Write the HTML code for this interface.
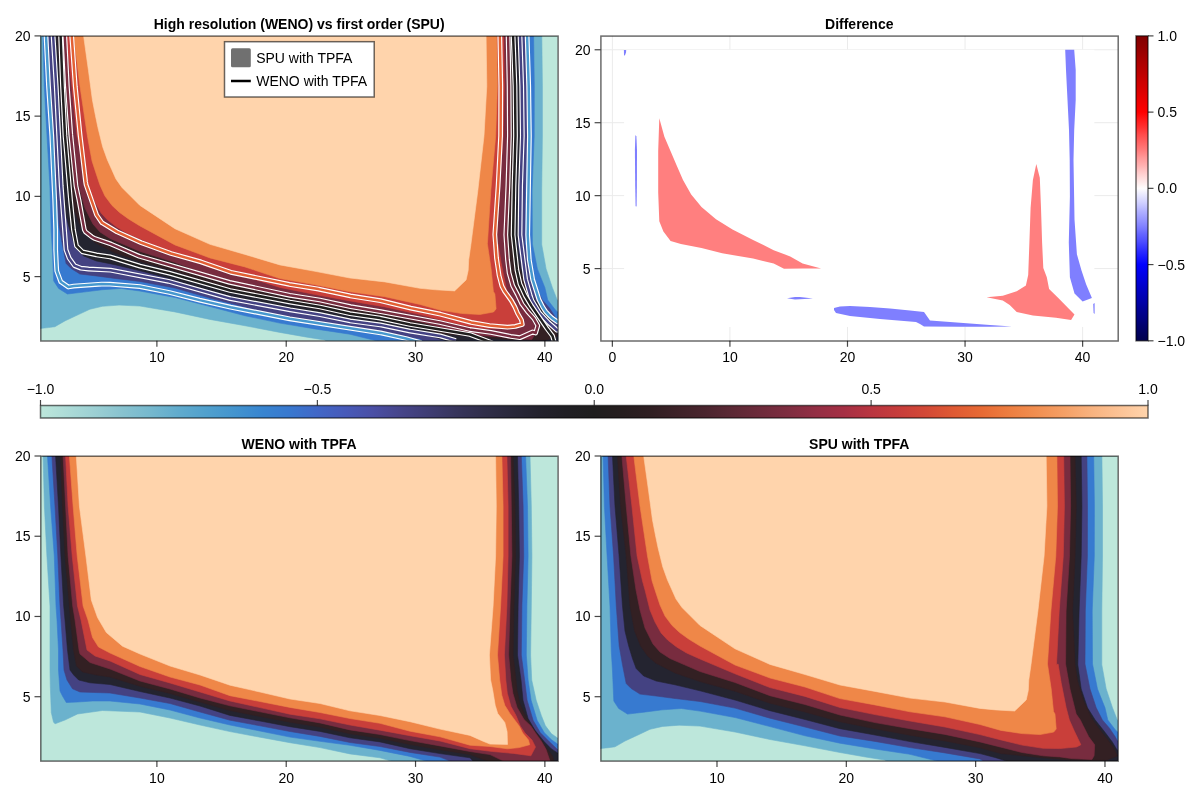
<!DOCTYPE html>
<html><head><meta charset="utf-8"><style>html,body{margin:0;padding:0;background:#fff;width:1200px;height:800px;overflow:hidden}svg{display:block;will-change:transform}</style></head><body>
<svg width="1200" height="800" viewBox="0 0 1200 800" font-family="'Liberation Sans', sans-serif">
<defs>
<clipPath id="cp"><rect x="0" y="0" width="517.3" height="304.9"/></clipPath>
<linearGradient id="gice" x1="0" y1="0" x2="1" y2="0"><stop offset="0.0000" stop-color="#bde7db"/><stop offset="0.0250" stop-color="#acdbd7"/><stop offset="0.0500" stop-color="#9bcfd3"/><stop offset="0.0750" stop-color="#87c2cf"/><stop offset="0.1000" stop-color="#75b8ce"/><stop offset="0.1250" stop-color="#60abcd"/><stop offset="0.1500" stop-color="#50a0cd"/><stop offset="0.1750" stop-color="#4394ce"/><stop offset="0.2000" stop-color="#3885d0"/><stop offset="0.2250" stop-color="#3878cf"/><stop offset="0.2500" stop-color="#4167c7"/><stop offset="0.2750" stop-color="#475ab9"/><stop offset="0.3000" stop-color="#4a4fa5"/><stop offset="0.3250" stop-color="#46458a"/><stop offset="0.3500" stop-color="#3f3d74"/><stop offset="0.3750" stop-color="#37355c"/><stop offset="0.4000" stop-color="#302e4a"/><stop offset="0.4250" stop-color="#29283b"/><stop offset="0.4500" stop-color="#23222d"/><stop offset="0.4750" stop-color="#201f24"/><stop offset="0.5000" stop-color="#1f1e1e"/><stop offset="0.5250" stop-color="#261e1f"/><stop offset="0.5500" stop-color="#2f1f22"/><stop offset="0.5750" stop-color="#3d2228"/><stop offset="0.6000" stop-color="#4a252e"/><stop offset="0.6250" stop-color="#5c2935"/><stop offset="0.6500" stop-color="#6d2b3b"/><stop offset="0.6750" stop-color="#7e2d40"/><stop offset="0.7000" stop-color="#932e44"/><stop offset="0.7250" stop-color="#a52f44"/><stop offset="0.7500" stop-color="#b93540"/><stop offset="0.7750" stop-color="#c73d3b"/><stop offset="0.8000" stop-color="#d34936"/><stop offset="0.8250" stop-color="#df5a33"/><stop offset="0.8500" stop-color="#e76a34"/><stop offset="0.8750" stop-color="#ed7e40"/><stop offset="0.9000" stop-color="#f18f51"/><stop offset="0.9250" stop-color="#f5a066"/><stop offset="0.9500" stop-color="#f8b380"/><stop offset="0.9750" stop-color="#fcc396"/><stop offset="1.0000" stop-color="#ffd4ac"/></linearGradient>
<linearGradient id="gseis" x1="0" y1="0" x2="0" y2="1"><stop offset="0.0000" stop-color="#800000"/><stop offset="0.0250" stop-color="#8c0000"/><stop offset="0.0500" stop-color="#980000"/><stop offset="0.0750" stop-color="#a60000"/><stop offset="0.1000" stop-color="#b20000"/><stop offset="0.1250" stop-color="#be0000"/><stop offset="0.1500" stop-color="#cc0000"/><stop offset="0.1750" stop-color="#d80000"/><stop offset="0.2000" stop-color="#e60000"/><stop offset="0.2250" stop-color="#f20000"/><stop offset="0.2500" stop-color="#fe0000"/><stop offset="0.2750" stop-color="#ff1919"/><stop offset="0.3000" stop-color="#ff3131"/><stop offset="0.3250" stop-color="#ff4d4d"/><stop offset="0.3500" stop-color="#ff6565"/><stop offset="0.3750" stop-color="#ff7d7d"/><stop offset="0.4000" stop-color="#ff9999"/><stop offset="0.4250" stop-color="#ffb1b1"/><stop offset="0.4500" stop-color="#ffcdcd"/><stop offset="0.4750" stop-color="#ffe5e5"/><stop offset="0.5000" stop-color="#fffdfd"/><stop offset="0.5250" stop-color="#e5e5ff"/><stop offset="0.5500" stop-color="#cdcdff"/><stop offset="0.5750" stop-color="#b1b1ff"/><stop offset="0.6000" stop-color="#9999ff"/><stop offset="0.6250" stop-color="#8181ff"/><stop offset="0.6500" stop-color="#6565ff"/><stop offset="0.6750" stop-color="#4d4dff"/><stop offset="0.7000" stop-color="#3131ff"/><stop offset="0.7250" stop-color="#1919ff"/><stop offset="0.7500" stop-color="#0101ff"/><stop offset="0.7750" stop-color="#0000ec"/><stop offset="0.8000" stop-color="#0000db"/><stop offset="0.8250" stop-color="#0000c8"/><stop offset="0.8500" stop-color="#0000b7"/><stop offset="0.8750" stop-color="#0000a6"/><stop offset="0.9000" stop-color="#000092"/><stop offset="0.9250" stop-color="#000082"/><stop offset="0.9500" stop-color="#00006e"/><stop offset="0.9750" stop-color="#00005d"/><stop offset="1.0000" stop-color="#00004c"/></linearGradient>
</defs>
<rect width="1200" height="800" fill="#ffffff"/>
<g transform="translate(40.5,35.9)" clip-path="url(#cp)">
<rect x="0" y="0" width="517.3" height="304.9" fill="#bde7db"/>
<path d="M-3.0,-3.0 L-3.0,292.5 L0.0,292.5 L7.7,291.7 L14.4,290.8 L24.4,285.0 L36.9,279.2 L49.4,273.3 L61.9,270.4 L78.6,269.2 L99.4,270.1 L134.4,276.0 L169.4,283.5 L204.4,289.8 L239.4,296.5 L265.0,301.0 L284.0,304.0 L290.0,307.0 L520.0,307.0 L520.0,264.5 L516.9,264.5 L511.9,251.8 L505.6,233.0 L501.2,208.7 L501.2,155.0 L501.9,100.0 L501.9,50.0 L501.3,0.0 L501.3,-3.0 Z" fill="#6bb2cd" stroke="#6bb2cd" stroke-width="0.6"/>
<path d="M2.5,-3.0 L2.5,0.0 L3.8,50.0 L6.5,100.0 L9.4,150.0 L10.7,195.0 L11.9,215.0 L13.2,245.0 L18.1,252.5 L26.9,258.1 L43.1,256.2 L61.9,253.8 L80.7,252.5 L99.4,255.1 L134.4,261.5 L169.4,270.6 L204.4,279.8 L239.4,287.2 L274.4,293.0 L309.4,298.3 L344.5,307.0 L520.0,307.0 L520.0,276.0 L516.9,276.0 L514.4,273.4 L507.2,264.0 L504.4,251.8 L496.9,233.0 L491.9,208.0 L491.6,155.0 L493.7,100.0 L493.8,50.0 L493.1,0.0 L493.1,-3.0 Z" fill="#377ad0" stroke="#377ad0" stroke-width="0.6"/>
<path d="M7.5,-3.0 L7.5,0.0 L9.4,50.0 L13.0,100.0 L15.7,150.0 L18.6,190.0 L21.9,208.8 L25.6,227.5 L30.6,232.5 L39.4,238.1 L55.6,240.0 L74.4,242.5 L99.4,245.5 L134.4,252.1 L169.4,262.2 L204.4,271.0 L239.4,280.0 L274.4,285.4 L309.4,291.6 L344.4,296.9 L379.4,302.9 L386.0,307.0 L520.0,307.0 L520.0,285.0 L516.9,285.0 L514.4,280.5 L508.9,272.2 L501.8,264.0 L495.6,251.8 L489.4,233.0 L484.4,208.0 L484.7,155.0 L486.8,100.0 L486.9,50.0 L486.3,0.0 L486.3,-3.0 Z" fill="#444282" stroke="#444282" stroke-width="0.6"/>
<path d="M11.9,-3.0 L11.9,0.0 L14.4,50.0 L18.5,100.0 L21.9,150.0 L24.4,175.0 L28.1,190.0 L31.9,202.5 L35.6,212.5 L43.1,220.0 L55.6,225.0 L74.4,228.8 L99.4,234.8 L134.4,244.0 L169.4,254.7 L204.4,263.5 L239.4,272.7 L274.4,279.0 L309.4,285.6 L344.4,291.4 L379.4,297.6 L395.2,301.7 L412.0,307.0 L520.0,307.0 L520.0,294.2 L516.6,294.2 L511.7,286.0 L503.4,275.0 L494.6,264.0 L486.9,251.8 L480.6,233.0 L477.2,208.7 L478.5,155.0 L480.6,100.0 L481.3,50.0 L480.6,0.0 L480.6,-3.0 Z" fill="#242430" stroke="#242430" stroke-width="0.6"/>
<path d="M16.9,-3.0 L16.9,0.0 L20.0,50.0 L25.6,100.0 L29.4,150.0 L34.0,175.0 L40.0,190.0 L47.0,200.0 L55.0,207.0 L74.4,216.9 L99.4,225.6 L134.4,235.2 L169.4,247.2 L204.4,256.0 L239.4,265.8 L274.4,272.8 L309.4,279.2 L344.4,284.9 L379.4,291.7 L400.0,297.5 L440.0,301.5 L470.0,304.0 L505.0,304.5 L517.0,300.0 L512.0,290.0 L505.0,281.0 L498.0,272.0 L491.0,262.0 L483.0,245.0 L477.0,225.0 L474.4,208.0 L472.0,155.0 L474.5,100.0 L475.6,50.0 L474.4,0.0 L474.4,-3.0 Z" fill="#332023" stroke="#332023" stroke-width="0.6"/>
<path d="M21.3,-3.0 L21.3,0.0 L25.6,50.0 L30.3,100.0 L35.4,134.0 L39.4,154.0 L44.4,172.0 L52.4,188.0 L59.4,196.0 L69.4,202.5 L84.4,209.0 L99.4,215.5 L134.4,226.5 L169.4,239.7 L204.4,248.5 L239.4,259.0 L274.4,266.6 L309.4,272.7 L344.4,278.4 L379.4,285.9 L400.4,291.2 L421.4,296.5 L442.4,299.8 L459.4,300.9 L470.4,302.5 L491.3,303.6 L493.5,299.8 L494.1,288.8 L488.0,280.5 L482.5,269.5 L479.8,264.0 L475.6,258.0 L469.4,233.0 L465.0,208.0 L465.5,155.0 L468.9,100.0 L470.0,50.0 L469.4,0.0 L469.4,-3.0 Z" fill="#782c3f" stroke="#782c3f" stroke-width="0.6"/>
<path d="M25.6,-3.0 L25.6,0.0 L31.3,50.0 L36.5,100.0 L41.9,125.0 L44.4,134.0 L49.4,154.0 L54.4,166.0 L60.5,177.0 L67.0,184.0 L76.0,191.0 L86.0,197.0 L99.4,203.0 L134.4,217.8 L169.4,231.6 L204.4,240.4 L239.4,251.5 L274.4,258.6 L309.4,265.0 L344.4,271.0 L379.4,278.6 L400.4,283.9 L421.4,289.1 L442.4,292.3 L459.4,292.6 L475.9,291.0 L480.3,288.8 L473.7,275.0 L468.8,264.0 L465.6,251.8 L460.6,226.8 L457.5,208.0 L455.9,208.7 L458.6,155.0 L462.7,100.0 L463.8,50.0 L463.1,0.0 L463.1,-3.0 Z" fill="#c93f3a" stroke="#c93f3a" stroke-width="0.6"/>
<path d="M33.2,-3.0 L33.2,0.0 L39.4,50.0 L46.9,100.0 L51.5,125.0 L55.4,137.0 L59.4,149.0 L64.4,160.0 L71.5,169.5 L79.0,176.5 L88.0,183.0 L99.4,190.0 L134.4,209.0 L169.4,222.0 L204.4,231.0 L239.4,242.6 L274.4,248.9 L309.4,255.8 L344.4,260.8 L379.4,268.5 L400.4,274.4 L421.4,277.6 L439.4,278.6 L453.1,276.1 L455.6,273.0 L454.4,258.0 L452.9,255.5 L450.6,233.0 L446.9,208.0 L450.3,155.0 L455.2,100.0 L456.9,50.0 L456.3,0.0 L456.3,-3.0 Z" fill="#ef8748" stroke="#ef8748" stroke-width="0.6"/>
<path d="M43.1,-3.0 L43.1,0.0 L48.0,35.0 L51.9,64.0 L55.0,80.0 L57.5,92.0 L62.2,111.0 L66.9,124.0 L71.4,134.0 L75.4,143.0 L81.4,151.5 L89.4,159.5 L99.4,169.5 L134.4,192.8 L169.4,208.4 L204.4,218.5 L239.4,229.0 L274.4,235.4 L309.4,242.1 L344.4,246.0 L379.4,252.4 L395.2,253.9 L414.1,255.0 L425.6,244.0 L427.7,234.5 L428.2,224.0 L430.4,208.7 L437.3,155.0 L443.5,100.0 L446.3,50.0 L445.6,0.0 L445.6,-3.0 Z" fill="#ffd4ac" stroke="#ffd4ac" stroke-width="0.6"/>
<path d="M5.5,0.0 L8.0,50.1 L11.3,100.2 L14.2,164.0 L15.2,194.0 L15.2,214.0 L16.0,230.3 L16.3,235.1 L20.3,245.9 L27.9,251.1 L33.2,250.2 L61.2,248.2 L69.4,248.3 L99.4,250.7 L129.0,256.6 L159.0,264.2 L190.0,271.3 L249.2,282.9 L340.1,297.0 L365.5,302.6 L380.9,307.0" fill="none" stroke="#ffffff" stroke-width="4.8" stroke-linejoin="round" />
<path d="M5.5,0.0 L8.0,50.1 L11.3,100.2 L14.2,164.0 L15.2,194.0 L15.2,214.0 L16.0,230.3 L16.3,235.1 L20.3,245.9 L27.9,251.1 L33.2,250.2 L61.2,248.2 L69.4,248.3 L99.4,250.7 L129.0,256.6 L159.0,264.2 L190.0,271.3 L249.2,282.9 L340.1,297.0 L365.5,302.6 L380.9,307.0" fill="none" stroke="#4798ce" stroke-width="2.5" stroke-linejoin="round" />
<path d="M520.0,286.0 L517.0,286.0 L511.8,282.4 L508.5,279.3 L505.2,275.7 L502.2,271.1 L498.5,263.8 L492.2,243.9 L488.8,223.9 L487.2,199.0 L488.9,100.0 L488.2,50.0 L486.6,0.0" fill="none" stroke="#ffffff" stroke-width="4.8" stroke-linejoin="round" />
<path d="M520.0,286.0 L517.0,286.0 L511.8,282.4 L508.5,279.3 L505.2,275.7 L502.2,271.1 L498.5,263.8 L492.2,243.9 L488.8,223.9 L487.2,199.0 L488.9,100.0 L488.2,50.0 L486.6,0.0" fill="none" stroke="#4798ce" stroke-width="2.5" stroke-linejoin="round" />
<path d="M12.6,0.0 L15.7,49.9 L20.7,149.9 L25.5,213.8 L28.7,222.3 L34.1,229.8 L40.4,232.3 L48.0,233.1 L70.1,234.3 L127.9,245.4 L189.8,262.7 L249.7,273.9 L279.8,278.8 L309.7,285.0 L339.8,289.0 L369.7,295.2 L399.7,300.0 L415.3,304.6" fill="none" stroke="#ffffff" stroke-width="4.8" stroke-linejoin="round" />
<path d="M12.6,0.0 L15.7,49.9 L20.7,149.9 L25.5,213.8 L28.7,222.3 L34.1,229.8 L40.4,232.3 L48.0,233.1 L70.1,234.3 L127.9,245.4 L189.8,262.7 L249.7,273.9 L279.8,278.8 L309.7,285.0 L339.8,289.0 L369.7,295.2 L399.7,300.0 L415.3,304.6" fill="none" stroke="#444282" stroke-width="2.5" stroke-linejoin="round" />
<path d="M520.0,294.6 L516.5,294.3 L508.1,286.7 L499.1,277.3 L491.7,265.1 L489.9,260.3 L485.1,243.5 L479.5,199.2 L480.1,150.0 L481.8,100.0 L481.2,50.0 L479.5,0.0" fill="none" stroke="#ffffff" stroke-width="4.8" stroke-linejoin="round" />
<path d="M520.0,294.6 L516.5,294.3 L508.1,286.7 L499.1,277.3 L491.7,265.1 L489.9,260.3 L485.1,243.5 L479.5,199.2 L480.1,150.0 L481.8,100.0 L481.2,50.0 L479.5,0.0" fill="none" stroke="#444282" stroke-width="2.5" stroke-linejoin="round" />
<path d="M20.1,0.0 L22.0,50.0 L24.5,100.0 L30.0,164.0 L33.0,194.0 L36.0,210.0 L42.0,216.0 L56.0,219.0 L69.5,221.0 L99.5,230.2 L129.5,237.5 L189.5,254.6 L249.5,266.2 L279.5,271.1 L309.5,277.8 L339.5,282.2 L369.5,288.6 L429.5,298.6 L452.0,307.0" fill="none" stroke="#ffffff" stroke-width="4.8" stroke-linejoin="round" />
<path d="M20.1,0.0 L22.0,50.0 L24.5,100.0 L30.0,164.0 L33.0,194.0 L36.0,210.0 L42.0,216.0 L56.0,219.0 L69.5,221.0 L99.5,230.2 L129.5,237.5 L189.5,254.6 L249.5,266.2 L279.5,271.1 L309.5,277.8 L339.5,282.2 L369.5,288.6 L429.5,298.6 L452.0,307.0" fill="none" stroke="#1f1e1e" stroke-width="2.5" stroke-linejoin="round" />
<path d="M514.0,307.0 L512.0,300.0 L506.0,292.0 L491.0,270.0 L485.0,260.0 L479.5,248.0 L476.4,234.0 L472.6,199.0 L473.5,150.0 L475.0,100.0 L474.5,50.0 L472.6,0.0" fill="none" stroke="#ffffff" stroke-width="4.8" stroke-linejoin="round" />
<path d="M514.0,307.0 L512.0,300.0 L506.0,292.0 L491.0,270.0 L485.0,260.0 L479.5,248.0 L476.4,234.0 L472.6,199.0 L473.5,150.0 L475.0,100.0 L474.5,50.0 L472.6,0.0" fill="none" stroke="#1f1e1e" stroke-width="2.5" stroke-linejoin="round" />
<path d="M24.3,0.0 L26.8,50.0 L30.3,99.1 L35.5,150.2 L38.5,164.3 L43.8,193.7 L44.9,195.9 L51.2,200.8 L53.7,202.4 L70.6,208.2 L98.8,220.4 L189.1,246.5 L249.3,259.4 L279.3,264.1 L310.2,270.8 L340.2,275.8 L399.2,286.6 L429.3,293.6 L450.5,296.5 L470.3,300.5 L479.4,301.8 L492.2,296.1 L495.1,297.1 L497.3,289.7 L493.4,282.7 L486.9,275.4 L481.5,268.2 L476.9,258.6 L472.2,249.8 L468.6,236.9 L467.0,223.9 L465.3,199.0 L467.4,150.0 L468.9,100.0 L468.6,50.0 L467.6,0.0" fill="none" stroke="#ffffff" stroke-width="4.8" stroke-linejoin="round" />
<path d="M24.3,0.0 L26.8,50.0 L30.3,99.1 L35.5,150.2 L38.5,164.3 L43.8,193.7 L44.9,195.9 L51.2,200.8 L53.7,202.4 L70.6,208.2 L98.8,220.4 L189.1,246.5 L249.3,259.4 L279.3,264.1 L310.2,270.8 L340.2,275.8 L399.2,286.6 L429.3,293.6 L450.5,296.5 L470.3,300.5 L479.4,301.8 L492.2,296.1 L495.1,297.1 L497.3,289.7 L493.4,282.7 L486.9,275.4 L481.5,268.2 L476.9,258.6 L472.2,249.8 L468.6,236.9 L467.0,223.9 L465.3,199.0 L467.4,150.0 L468.9,100.0 L468.6,50.0 L467.6,0.0" fill="none" stroke="#782c3f" stroke-width="2.5" stroke-linejoin="round" />
<path d="M31.2,0.0 L34.8,50.7 L39.6,99.6 L45.1,146.0 L45.6,148.9 L56.1,179.1 L61.5,186.9 L76.6,196.0 L100.9,206.9 L130.5,217.6 L160.5,226.0 L190.3,236.4 L248.9,248.5 L278.0,253.2 L309.9,260.0 L340.0,264.8 L370.2,272.2 L400.0,278.3 L430.7,286.5 L448.9,289.7 L467.0,291.3 L474.8,290.5 L481.8,288.6 L481.0,284.2 L477.0,277.2 L474.4,271.1 L470.8,264.6 L464.2,255.4 L461.4,250.2 L458.6,239.6 L456.0,222.2 L454.3,198.8 L457.6,149.9 L460.1,100.0 L460.3,50.0 L459.3,0.0" fill="none" stroke="#ffffff" stroke-width="4.8" stroke-linejoin="round" />
<path d="M31.2,0.0 L34.8,50.7 L39.6,99.6 L45.1,146.0 L45.6,148.9 L56.1,179.1 L61.5,186.9 L76.6,196.0 L100.9,206.9 L130.5,217.6 L160.5,226.0 L190.3,236.4 L248.9,248.5 L278.0,253.2 L309.9,260.0 L340.0,264.8 L370.2,272.2 L400.0,278.3 L430.7,286.5 L448.9,289.7 L467.0,291.3 L474.8,290.5 L481.8,288.6 L481.0,284.2 L477.0,277.2 L474.4,271.1 L470.8,264.6 L464.2,255.4 L461.4,250.2 L458.6,239.6 L456.0,222.2 L454.3,198.8 L457.6,149.9 L460.1,100.0 L460.3,50.0 L459.3,0.0" fill="none" stroke="#e25f33" stroke-width="2.5" stroke-linejoin="round" />
</g>
<g transform="translate(40.5,456.0)" clip-path="url(#cp)">
<rect x="0" y="0" width="517.3" height="304.9" fill="#bde7db"/>
<path d="M2.6,-3.0 L2.6,0.0 L3.9,50.0 L6.4,100.0 L9.5,150.0 L9.5,214.0 L9.8,230.0 L10.8,256.5 L13.0,266.0 L14.5,267.8 L24.5,264.0 L37.0,258.0 L62.0,254.5 L99.5,256.0 L129.5,262.0 L159.5,269.0 L189.5,275.6 L219.5,281.2 L249.5,286.7 L279.5,291.6 L309.5,297.9 L339.5,301.8 L357.6,307.0 L520.0,307.0 L520.0,282.0 L517.0,282.0 L510.9,277.7 L504.8,269.6 L500.8,259.4 L495.7,244.3 L491.2,224.0 L490.1,199.0 L490.8,150.0 L491.4,100.0 L490.8,50.0 L489.5,0.0 L489.5,-3.0 Z" fill="#6bb2cd" stroke="#6bb2cd" stroke-width="0.6"/>
<path d="M7.0,-3.0 L7.0,0.0 L10.1,50.0 L13.8,100.0 L15.5,150.0 L16.5,164.0 L18.0,194.0 L18.0,214.0 L19.5,235.0 L22.0,240.0 L25.8,246.5 L37.0,246.0 L52.0,245.0 L69.5,245.0 L99.5,248.0 L129.5,254.0 L159.5,262.0 L189.5,269.0 L219.5,275.0 L249.5,281.1 L279.5,285.3 L309.5,289.3 L339.5,294.4 L369.5,300.4 L392.6,307.0 L520.0,307.0 L520.0,288.0 L517.0,288.0 L510.9,283.7 L503.8,276.7 L496.7,264.5 L490.6,244.3 L487.6,224.0 L485.8,199.0 L486.4,150.0 L487.6,100.0 L487.0,50.0 L485.1,0.0 L485.1,-3.0 Z" fill="#377ad0" stroke="#377ad0" stroke-width="0.6"/>
<path d="M11.4,-3.0 L11.4,0.0 L14.5,50.0 L17.3,100.0 L19.5,150.0 L20.5,164.0 L22.5,194.0 L23.5,214.0 L26.5,224.0 L32.0,232.8 L39.5,236.0 L69.5,237.0 L99.5,242.0 L129.5,247.5 L159.5,256.0 L189.5,264.2 L219.5,269.8 L249.5,275.5 L279.5,280.4 L309.5,286.5 L339.5,290.5 L369.5,296.4 L399.5,301.1 L415.0,307.0 L520.0,307.0 L520.0,293.5 L517.0,293.5 L508.9,285.8 L499.8,276.7 L492.7,264.5 L486.6,244.3 L484.1,224.0 L480.8,199.0 L481.4,150.0 L483.2,100.0 L482.6,50.0 L480.8,0.0 L480.8,-3.0 Z" fill="#444282" stroke="#444282" stroke-width="0.6"/>
<path d="M15.1,-3.0 L15.1,0.0 L18.0,50.0 L20.4,100.0 L23.2,150.0 L24.5,164.0 L27.0,194.0 L29.5,214.0 L33.2,219.0 L38.2,224.0 L49.5,226.8 L69.5,228.5 L99.5,235.5 L129.5,242.0 L159.5,250.0 L189.5,259.4 L219.5,265.0 L249.5,270.7 L279.5,275.4 L309.5,281.8 L339.5,285.9 L369.5,292.7 L399.5,297.6 L429.5,301.8 L434.3,307.0 L520.0,307.0 L520.0,296.9 L517.0,296.9 L510.9,292.9 L503.8,285.8 L494.7,274.6 L487.6,262.5 L482.5,244.3 L480.5,224.0 L477.0,199.0 L477.6,150.0 L478.9,100.0 L478.2,50.0 L477.0,0.0 L477.0,-3.0 Z" fill="#242430" stroke="#242430" stroke-width="0.6"/>
<path d="M20.1,-3.0 L20.1,0.0 L22.0,50.0 L24.5,100.0 L28.9,150.0 L30.0,164.0 L33.0,194.0 L36.0,210.0 L42.0,216.0 L56.0,219.0 L69.5,221.0 L99.5,230.2 L129.5,237.5 L159.5,246.0 L189.5,254.6 L219.5,260.4 L249.5,266.2 L279.5,271.1 L309.5,277.8 L339.5,282.2 L369.5,288.6 L399.5,293.7 L429.5,298.6 L452.0,307.0 L514.0,307.0 L512.0,300.0 L506.0,292.0 L498.0,280.0 L491.0,270.0 L485.0,260.0 L479.5,248.0 L476.4,234.0 L475.5,224.0 L472.6,199.0 L473.5,150.0 L475.0,100.0 L474.5,50.0 L472.6,0.0 L472.6,-3.0 Z" fill="#332023" stroke="#332023" stroke-width="0.6"/>
<path d="M22.6,-3.0 L22.6,0.0 L25.1,50.0 L27.6,100.0 L32.2,150.0 L34.5,164.0 L38.5,194.0 L39.5,198.0 L49.5,206.5 L69.5,213.0 L99.5,225.0 L129.5,233.0 L159.5,242.0 L189.5,249.8 L219.5,255.8 L249.5,261.8 L279.5,266.9 L309.5,273.9 L339.5,278.5 L369.5,284.6 L399.5,289.9 L429.5,295.5 L449.5,298.6 L467.0,307.0 L510.2,307.0 L505.5,293.3 L500.9,285.2 L495.0,277.0 L490.4,270.0 L483.5,263.5 L476.5,251.3 L472.4,237.2 L470.4,224.0 L468.2,199.0 L469.5,150.0 L471.4,100.0 L470.8,50.0 L470.1,0.0 L470.1,-3.0 Z" fill="#782c3f" stroke="#782c3f" stroke-width="0.6"/>
<path d="M25.1,-3.0 L25.1,0.0 L27.6,50.0 L31.7,100.0 L37.0,150.0 L40.5,164.0 L46.5,194.0 L54.5,200.0 L69.5,205.0 L99.5,218.5 L129.5,227.0 L159.5,236.0 L189.5,245.0 L219.5,251.6 L249.5,258.2 L279.5,262.8 L309.5,269.0 L339.5,274.2 L369.5,279.7 L399.5,285.0 L429.5,292.7 L452.0,295.5 L472.9,297.4 L490.4,299.8 L495.0,291.0 L491.5,284.0 L484.5,277.0 L479.8,270.0 L475.5,259.4 L470.4,250.3 L466.8,237.2 L465.3,224.0 L463.9,199.0 L466.4,150.0 L467.6,100.0 L467.6,50.0 L466.4,0.0 L466.4,-3.0 Z" fill="#c93f3a" stroke="#c93f3a" stroke-width="0.6"/>
<path d="M28.9,-3.0 L28.9,0.0 L32.6,50.0 L36.7,100.0 L42.6,150.0 L47.5,164.0 L52.0,181.5 L58.0,191.0 L69.5,197.0 L99.5,210.5 L129.5,221.0 L159.5,229.0 L189.5,239.7 L219.5,245.5 L249.5,251.4 L279.5,256.5 L309.5,262.5 L339.5,267.3 L369.5,275.2 L399.5,280.8 L429.5,289.2 L449.5,290.5 L467.0,292.8 L478.7,291.6 L489.2,288.7 L488.0,284.0 L482.2,277.0 L478.7,270.0 L469.4,257.4 L464.3,249.3 L461.3,239.2 L459.2,224.0 L457.0,199.0 L460.1,150.0 L462.6,100.0 L462.6,50.0 L461.4,0.0 L461.4,-3.0 Z" fill="#ef8748" stroke="#ef8748" stroke-width="0.6"/>
<path d="M35.8,-3.0 L35.8,0.0 L38.9,50.0 L45.4,100.0 L50.8,144.0 L57.0,161.5 L65.8,176.5 L82.0,190.2 L99.5,198.0 L129.5,210.0 L159.5,219.0 L189.5,229.2 L219.5,236.0 L249.5,243.0 L279.5,247.5 L309.5,254.8 L339.5,259.5 L369.5,265.7 L399.5,273.1 L429.5,279.4 L442.5,285.2 L449.5,288.1 L467.0,288.4 L466.6,275.8 L464.3,266.5 L457.2,257.4 L454.7,249.3 L452.2,234.1 L450.1,224.0 L448.9,199.0 L452.6,150.0 L455.1,100.0 L455.8,50.0 L455.1,0.0 L455.1,-3.0 Z" fill="#ffd4ac" stroke="#ffd4ac" stroke-width="0.6"/>
</g>
<g transform="translate(600.6,456.0)" clip-path="url(#cp)">
<rect x="0" y="0" width="517.3" height="304.9" fill="#bde7db"/>
<path d="M-3.0,-3.0 L-3.0,292.5 L0.0,292.5 L7.7,291.7 L14.4,290.8 L24.4,285.0 L36.9,279.2 L49.4,273.3 L61.9,270.4 L78.6,269.2 L99.4,270.1 L134.4,276.0 L169.4,283.5 L204.4,289.8 L239.4,296.5 L265.0,301.0 L284.0,304.0 L290.0,307.0 L520.0,307.0 L520.0,264.5 L516.9,264.5 L511.9,251.8 L505.6,233.0 L501.2,208.7 L501.2,155.0 L501.9,100.0 L501.9,50.0 L501.3,0.0 L501.3,-3.0 Z" fill="#6bb2cd" stroke="#6bb2cd" stroke-width="0.6"/>
<path d="M2.5,-3.0 L2.5,0.0 L3.8,50.0 L6.5,100.0 L9.4,150.0 L10.7,195.0 L11.9,215.0 L13.2,245.0 L18.1,252.5 L26.9,258.1 L43.1,256.2 L61.9,253.8 L80.7,252.5 L99.4,255.1 L134.4,261.5 L169.4,270.6 L204.4,279.8 L239.4,287.2 L274.4,293.0 L309.4,298.3 L344.5,307.0 L520.0,307.0 L520.0,276.0 L516.9,276.0 L514.4,273.4 L507.2,264.0 L504.4,251.8 L496.9,233.0 L491.9,208.0 L491.6,155.0 L493.7,100.0 L493.8,50.0 L493.1,0.0 L493.1,-3.0 Z" fill="#377ad0" stroke="#377ad0" stroke-width="0.6"/>
<path d="M7.5,-3.0 L7.5,0.0 L9.4,50.0 L13.0,100.0 L15.7,150.0 L18.6,190.0 L21.9,208.8 L25.6,227.5 L30.6,232.5 L39.4,238.1 L55.6,240.0 L74.4,242.5 L99.4,245.5 L134.4,252.1 L169.4,262.2 L204.4,271.0 L239.4,280.0 L274.4,285.4 L309.4,291.6 L344.4,296.9 L379.4,302.9 L386.0,307.0 L520.0,307.0 L520.0,285.0 L516.9,285.0 L514.4,280.5 L508.9,272.2 L501.8,264.0 L495.6,251.8 L489.4,233.0 L484.4,208.0 L484.7,155.0 L486.8,100.0 L486.9,50.0 L486.3,0.0 L486.3,-3.0 Z" fill="#444282" stroke="#444282" stroke-width="0.6"/>
<path d="M11.9,-3.0 L11.9,0.0 L14.4,50.0 L18.5,100.0 L21.9,150.0 L24.4,175.0 L28.1,190.0 L31.9,202.5 L35.6,212.5 L43.1,220.0 L55.6,225.0 L74.4,228.8 L99.4,234.8 L134.4,244.0 L169.4,254.7 L204.4,263.5 L239.4,272.7 L274.4,279.0 L309.4,285.6 L344.4,291.4 L379.4,297.6 L395.2,301.7 L412.0,307.0 L520.0,307.0 L520.0,294.2 L516.6,294.2 L511.7,286.0 L503.4,275.0 L494.6,264.0 L486.9,251.8 L480.6,233.0 L477.2,208.7 L478.5,155.0 L480.6,100.0 L481.3,50.0 L480.6,0.0 L480.6,-3.0 Z" fill="#242430" stroke="#242430" stroke-width="0.6"/>
<path d="M16.9,-3.0 L16.9,0.0 L20.0,50.0 L25.6,100.0 L29.4,150.0 L34.0,175.0 L40.0,190.0 L47.0,200.0 L55.0,207.0 L74.4,216.9 L99.4,225.6 L134.4,235.2 L169.4,247.2 L204.4,256.0 L239.4,265.8 L274.4,272.8 L309.4,279.2 L344.4,284.9 L379.4,291.7 L400.0,297.5 L440.0,301.5 L470.0,304.0 L505.0,304.5 L517.0,300.0 L512.0,290.0 L505.0,281.0 L498.0,272.0 L491.0,262.0 L483.0,245.0 L477.0,225.0 L474.4,208.0 L472.0,155.0 L474.5,100.0 L475.6,50.0 L474.4,0.0 L474.4,-3.0 Z" fill="#332023" stroke="#332023" stroke-width="0.6"/>
<path d="M21.3,-3.0 L21.3,0.0 L25.6,50.0 L30.3,100.0 L35.4,134.0 L39.4,154.0 L44.4,172.0 L52.4,188.0 L59.4,196.0 L69.4,202.5 L84.4,209.0 L99.4,215.5 L134.4,226.5 L169.4,239.7 L204.4,248.5 L239.4,259.0 L274.4,266.6 L309.4,272.7 L344.4,278.4 L379.4,285.9 L400.4,291.2 L421.4,296.5 L442.4,299.8 L459.4,300.9 L470.4,302.5 L491.3,303.6 L493.5,299.8 L494.1,288.8 L488.0,280.5 L482.5,269.5 L479.8,264.0 L475.6,258.0 L469.4,233.0 L465.0,208.0 L465.5,155.0 L468.9,100.0 L470.0,50.0 L469.4,0.0 L469.4,-3.0 Z" fill="#782c3f" stroke="#782c3f" stroke-width="0.6"/>
<path d="M25.6,-3.0 L25.6,0.0 L31.3,50.0 L36.5,100.0 L41.9,125.0 L44.4,134.0 L49.4,154.0 L54.4,166.0 L60.5,177.0 L67.0,184.0 L76.0,191.0 L86.0,197.0 L99.4,203.0 L134.4,217.8 L169.4,231.6 L204.4,240.4 L239.4,251.5 L274.4,258.6 L309.4,265.0 L344.4,271.0 L379.4,278.6 L400.4,283.9 L421.4,289.1 L442.4,292.3 L459.4,292.6 L475.9,291.0 L480.3,288.8 L473.7,275.0 L468.8,264.0 L465.6,251.8 L460.6,226.8 L457.5,208.0 L455.9,208.7 L458.6,155.0 L462.7,100.0 L463.8,50.0 L463.1,0.0 L463.1,-3.0 Z" fill="#c93f3a" stroke="#c93f3a" stroke-width="0.6"/>
<path d="M33.2,-3.0 L33.2,0.0 L39.4,50.0 L46.9,100.0 L51.5,125.0 L55.4,137.0 L59.4,149.0 L64.4,160.0 L71.5,169.5 L79.0,176.5 L88.0,183.0 L99.4,190.0 L134.4,209.0 L169.4,222.0 L204.4,231.0 L239.4,242.6 L274.4,248.9 L309.4,255.8 L344.4,260.8 L379.4,268.5 L400.4,274.4 L421.4,277.6 L439.4,278.6 L453.1,276.1 L455.6,273.0 L454.4,258.0 L452.9,255.5 L450.6,233.0 L446.9,208.0 L450.3,155.0 L455.2,100.0 L456.9,50.0 L456.3,0.0 L456.3,-3.0 Z" fill="#ef8748" stroke="#ef8748" stroke-width="0.6"/>
<path d="M43.1,-3.0 L43.1,0.0 L48.0,35.0 L51.9,64.0 L55.0,80.0 L57.5,92.0 L62.2,111.0 L66.9,124.0 L71.4,134.0 L75.4,143.0 L81.4,151.5 L89.4,159.5 L99.4,169.5 L134.4,192.8 L169.4,208.4 L204.4,218.5 L239.4,229.0 L274.4,235.4 L309.4,242.1 L344.4,246.0 L379.4,252.4 L395.2,253.9 L414.1,255.0 L425.6,244.0 L427.7,234.5 L428.2,224.0 L430.4,208.7 L437.3,155.0 L443.5,100.0 L446.3,50.0 L445.6,0.0 L445.6,-3.0 Z" fill="#ffd4ac" stroke="#ffd4ac" stroke-width="0.6"/>
</g>
<g>
<line x1="612.36" y1="35.9" x2="612.36" y2="340.79999999999995" stroke="#ebebeb" stroke-width="1"/>
<line x1="729.92" y1="35.9" x2="729.92" y2="340.79999999999995" stroke="#ebebeb" stroke-width="1"/>
<line x1="847.49" y1="35.9" x2="847.49" y2="340.79999999999995" stroke="#ebebeb" stroke-width="1"/>
<line x1="965.06" y1="35.9" x2="965.06" y2="340.79999999999995" stroke="#ebebeb" stroke-width="1"/>
<line x1="1082.63" y1="35.9" x2="1082.63" y2="340.79999999999995" stroke="#ebebeb" stroke-width="1"/>
<line x1="600.6" y1="268.59" x2="1117.9" y2="268.59" stroke="#ebebeb" stroke-width="1"/>
<line x1="600.6" y1="195.64" x2="1117.9" y2="195.64" stroke="#ebebeb" stroke-width="1"/>
<line x1="600.6" y1="122.70" x2="1117.9" y2="122.70" stroke="#ebebeb" stroke-width="1"/>
<line x1="600.6" y1="49.76" x2="1117.9" y2="49.76" stroke="#ebebeb" stroke-width="1"/>
<rect x="624.11" y="49.76" width="470.27" height="277.18" fill="#ffffff"/>
<path d="M623.9,50.0 L626.2,50.0 L626.0,52.5 L624.8,55.8 L624.0,55.0 Z" fill="#7f7fff"/>
<path d="M635.4,135.0 L636.4,136.5 L637.0,150.0 L636.9,185.0 L636.6,206.5 L635.6,206.3 L635.2,185.0 L634.9,150.0 Z" fill="#7f7fff"/>
<path d="M659.3,118.2 L664.4,136.8 L670.6,151.2 L676.8,165.7 L683.0,180.1 L691.2,194.5 L701.5,206.9 L716.0,219.3 L732.5,229.6 L753.1,239.9 L773.7,250.2 L790.2,256.4 L802.6,263.6 L821.1,268.4 L802.6,268.5 L784.0,268.8 L773.7,263.6 L753.1,258.5 L722.2,253.3 L701.5,248.1 L680.9,244.0 L670.6,240.9 L663.4,231.6 L659.3,221.3 L658.2,192.5 L658.2,151.2 Z" fill="#ff7f7f"/>
<path d="M787.0,298.2 L795.0,297.0 L800.0,297.0 L813.0,298.4 L800.0,299.2 L795.0,299.6 Z" fill="#7f7fff"/>
<path d="M834.0,308.0 L840.0,306.6 L850.0,306.0 L870.0,307.0 L890.0,308.6 L910.0,310.6 L924.0,312.0 L930.0,320.6 L950.0,322.0 L970.0,323.4 L990.0,325.0 L1012.0,326.4 L990.0,326.8 L960.0,326.8 L924.0,326.6 L920.0,324.0 L916.0,322.0 L880.0,319.0 L850.0,316.0 L836.0,313.0 L834.0,310.0 Z" fill="#7f7fff"/>
<path d="M1036.3,163.9 L1039.8,177.8 L1041.0,207.9 L1042.1,242.6 L1043.3,268.0 L1046.8,277.3 L1049.1,288.9 L1058.3,298.1 L1067.6,307.4 L1074.5,314.4 L1071.1,320.1 L1056.0,317.8 L1032.9,315.5 L1016.7,312.0 L1009.7,305.1 L1002.8,300.5 L986.6,297.2 L1002.8,295.8 L1016.7,291.2 L1025.9,285.4 L1028.2,275.0 L1029.4,242.6 L1030.6,207.9 L1032.9,180.1 Z" fill="#ff7f7f"/>
<path d="M1065.2,49.7 L1074.2,49.7 L1075.7,70.0 L1075.7,100.0 L1074.2,130.0 L1073.5,160.0 L1074.5,219.4 L1076.9,254.2 L1081.5,270.4 L1086.1,284.3 L1091.9,298.1 L1082.6,301.6 L1074.5,293.5 L1069.9,277.3 L1068.8,242.6 L1069.9,196.3 L1069.7,160.0 L1069.0,130.0 L1067.5,100.0 L1066.0,70.0 Z" fill="#7f7fff"/>
<path d="M1093.2,304.0 L1094.6,303.0 L1094.6,314.0 L1093.6,313.0 Z" fill="#7f7fff"/>
</g>
<rect x="40.80" y="36.10" width="517.30" height="304.90" fill="none" stroke="rgba(0,0,0,0.58)" stroke-width="1.5"/>
<line x1="156.89" y1="340.80" x2="156.89" y2="346.80" stroke="rgba(0,0,0,0.72)" stroke-width="1.2"/>
<text x="156.89" y="362.40" text-anchor="middle" font-size="14" >10</text>
<line x1="286.22" y1="340.80" x2="286.22" y2="346.80" stroke="rgba(0,0,0,0.72)" stroke-width="1.2"/>
<text x="286.22" y="362.40" text-anchor="middle" font-size="14" >20</text>
<line x1="415.54" y1="340.80" x2="415.54" y2="346.80" stroke="rgba(0,0,0,0.72)" stroke-width="1.2"/>
<text x="415.54" y="362.40" text-anchor="middle" font-size="14" >30</text>
<line x1="544.87" y1="340.80" x2="544.87" y2="346.80" stroke="rgba(0,0,0,0.72)" stroke-width="1.2"/>
<text x="544.87" y="362.40" text-anchor="middle" font-size="14" >40</text>
<line x1="34.50" y1="276.61" x2="40.50" y2="276.61" stroke="rgba(0,0,0,0.72)" stroke-width="1.2"/>
<text x="30.50" y="281.61" text-anchor="end" font-size="14" >5</text>
<line x1="34.50" y1="196.37" x2="40.50" y2="196.37" stroke="rgba(0,0,0,0.72)" stroke-width="1.2"/>
<text x="30.50" y="201.37" text-anchor="end" font-size="14" >10</text>
<line x1="34.50" y1="116.14" x2="40.50" y2="116.14" stroke="rgba(0,0,0,0.72)" stroke-width="1.2"/>
<text x="30.50" y="121.14" text-anchor="end" font-size="14" >15</text>
<line x1="34.50" y1="35.90" x2="40.50" y2="35.90" stroke="rgba(0,0,0,0.72)" stroke-width="1.2"/>
<text x="30.50" y="40.90" text-anchor="end" font-size="14" >20</text>
<text x="299.15" y="28.70" text-anchor="middle" font-size="14" font-weight="bold" >High resolution (WENO) vs first order (SPU)</text>
<rect x="40.80" y="456.20" width="517.30" height="304.90" fill="none" stroke="rgba(0,0,0,0.58)" stroke-width="1.5"/>
<line x1="156.89" y1="760.90" x2="156.89" y2="766.90" stroke="rgba(0,0,0,0.72)" stroke-width="1.2"/>
<text x="156.89" y="782.50" text-anchor="middle" font-size="14" >10</text>
<line x1="286.22" y1="760.90" x2="286.22" y2="766.90" stroke="rgba(0,0,0,0.72)" stroke-width="1.2"/>
<text x="286.22" y="782.50" text-anchor="middle" font-size="14" >20</text>
<line x1="415.54" y1="760.90" x2="415.54" y2="766.90" stroke="rgba(0,0,0,0.72)" stroke-width="1.2"/>
<text x="415.54" y="782.50" text-anchor="middle" font-size="14" >30</text>
<line x1="544.87" y1="760.90" x2="544.87" y2="766.90" stroke="rgba(0,0,0,0.72)" stroke-width="1.2"/>
<text x="544.87" y="782.50" text-anchor="middle" font-size="14" >40</text>
<line x1="34.50" y1="696.71" x2="40.50" y2="696.71" stroke="rgba(0,0,0,0.72)" stroke-width="1.2"/>
<text x="30.50" y="701.71" text-anchor="end" font-size="14" >5</text>
<line x1="34.50" y1="616.47" x2="40.50" y2="616.47" stroke="rgba(0,0,0,0.72)" stroke-width="1.2"/>
<text x="30.50" y="621.47" text-anchor="end" font-size="14" >10</text>
<line x1="34.50" y1="536.24" x2="40.50" y2="536.24" stroke="rgba(0,0,0,0.72)" stroke-width="1.2"/>
<text x="30.50" y="541.24" text-anchor="end" font-size="14" >15</text>
<line x1="34.50" y1="456.00" x2="40.50" y2="456.00" stroke="rgba(0,0,0,0.72)" stroke-width="1.2"/>
<text x="30.50" y="461.00" text-anchor="end" font-size="14" >20</text>
<text x="299.15" y="448.80" text-anchor="middle" font-size="14" font-weight="bold" >WENO with TPFA</text>
<rect x="600.90" y="456.20" width="517.30" height="304.90" fill="none" stroke="rgba(0,0,0,0.58)" stroke-width="1.5"/>
<line x1="716.99" y1="760.90" x2="716.99" y2="766.90" stroke="rgba(0,0,0,0.72)" stroke-width="1.2"/>
<text x="716.99" y="782.50" text-anchor="middle" font-size="14" >10</text>
<line x1="846.32" y1="760.90" x2="846.32" y2="766.90" stroke="rgba(0,0,0,0.72)" stroke-width="1.2"/>
<text x="846.32" y="782.50" text-anchor="middle" font-size="14" >20</text>
<line x1="975.64" y1="760.90" x2="975.64" y2="766.90" stroke="rgba(0,0,0,0.72)" stroke-width="1.2"/>
<text x="975.64" y="782.50" text-anchor="middle" font-size="14" >30</text>
<line x1="1104.97" y1="760.90" x2="1104.97" y2="766.90" stroke="rgba(0,0,0,0.72)" stroke-width="1.2"/>
<text x="1104.97" y="782.50" text-anchor="middle" font-size="14" >40</text>
<line x1="594.60" y1="696.71" x2="600.60" y2="696.71" stroke="rgba(0,0,0,0.72)" stroke-width="1.2"/>
<text x="590.60" y="701.71" text-anchor="end" font-size="14" >5</text>
<line x1="594.60" y1="616.47" x2="600.60" y2="616.47" stroke="rgba(0,0,0,0.72)" stroke-width="1.2"/>
<text x="590.60" y="621.47" text-anchor="end" font-size="14" >10</text>
<line x1="594.60" y1="536.24" x2="600.60" y2="536.24" stroke="rgba(0,0,0,0.72)" stroke-width="1.2"/>
<text x="590.60" y="541.24" text-anchor="end" font-size="14" >15</text>
<line x1="594.60" y1="456.00" x2="600.60" y2="456.00" stroke="rgba(0,0,0,0.72)" stroke-width="1.2"/>
<text x="590.60" y="461.00" text-anchor="end" font-size="14" >20</text>
<text x="859.25" y="448.80" text-anchor="middle" font-size="14" font-weight="bold" >SPU with TPFA</text>
<rect x="600.90" y="36.10" width="517.30" height="304.90" fill="none" stroke="rgba(0,0,0,0.58)" stroke-width="1.5"/>
<line x1="612.36" y1="340.80" x2="612.36" y2="346.80" stroke="rgba(0,0,0,0.72)" stroke-width="1.2"/>
<text x="612.36" y="362.40" text-anchor="middle" font-size="14" >0</text>
<line x1="729.92" y1="340.80" x2="729.92" y2="346.80" stroke="rgba(0,0,0,0.72)" stroke-width="1.2"/>
<text x="729.92" y="362.40" text-anchor="middle" font-size="14" >10</text>
<line x1="847.49" y1="340.80" x2="847.49" y2="346.80" stroke="rgba(0,0,0,0.72)" stroke-width="1.2"/>
<text x="847.49" y="362.40" text-anchor="middle" font-size="14" >20</text>
<line x1="965.06" y1="340.80" x2="965.06" y2="346.80" stroke="rgba(0,0,0,0.72)" stroke-width="1.2"/>
<text x="965.06" y="362.40" text-anchor="middle" font-size="14" >30</text>
<line x1="1082.63" y1="340.80" x2="1082.63" y2="346.80" stroke="rgba(0,0,0,0.72)" stroke-width="1.2"/>
<text x="1082.63" y="362.40" text-anchor="middle" font-size="14" >40</text>
<line x1="594.60" y1="268.59" x2="600.60" y2="268.59" stroke="rgba(0,0,0,0.72)" stroke-width="1.2"/>
<text x="590.60" y="273.59" text-anchor="end" font-size="14" >5</text>
<line x1="594.60" y1="195.64" x2="600.60" y2="195.64" stroke="rgba(0,0,0,0.72)" stroke-width="1.2"/>
<text x="590.60" y="200.64" text-anchor="end" font-size="14" >10</text>
<line x1="594.60" y1="122.70" x2="600.60" y2="122.70" stroke="rgba(0,0,0,0.72)" stroke-width="1.2"/>
<text x="590.60" y="127.70" text-anchor="end" font-size="14" >15</text>
<line x1="594.60" y1="49.76" x2="600.60" y2="49.76" stroke="rgba(0,0,0,0.72)" stroke-width="1.2"/>
<text x="590.60" y="54.76" text-anchor="end" font-size="14" >20</text>
<text x="859.25" y="28.70" text-anchor="middle" font-size="14" font-weight="bold" >Difference</text>
<rect x="224.5" y="41.7" width="149.7" height="55.3" fill="#ffffff" stroke="rgba(0,0,0,0.58)" stroke-width="1.5"/>
<rect x="231" y="48.3" width="19.8" height="18.9" rx="1.5" fill="#707070"/>
<line x1="231" y1="81" x2="250.8" y2="81" stroke="#000" stroke-width="2.5"/>
<text x="256.20" y="62.70" text-anchor="start" font-size="14" >SPU with TPFA</text>
<text x="256.20" y="85.80" text-anchor="start" font-size="14" >WENO with TPFA</text>
<rect x="40.5" y="405.5" width="1107.5" height="12.5" fill="url(#gice)" stroke="rgba(0,0,0,0.58)" stroke-width="1.5"/>
<line x1="40.50" y1="400.0" x2="40.50" y2="405.5" stroke="rgba(0,0,0,0.72)" stroke-width="1.2"/>
<text x="40.50" y="394.20" text-anchor="middle" font-size="14" >−1.0</text>
<line x1="317.38" y1="400.0" x2="317.38" y2="405.5" stroke="rgba(0,0,0,0.72)" stroke-width="1.2"/>
<text x="317.38" y="394.20" text-anchor="middle" font-size="14" >−0.5</text>
<line x1="594.25" y1="400.0" x2="594.25" y2="405.5" stroke="rgba(0,0,0,0.72)" stroke-width="1.2"/>
<text x="594.25" y="394.20" text-anchor="middle" font-size="14" >0.0</text>
<line x1="871.12" y1="400.0" x2="871.12" y2="405.5" stroke="rgba(0,0,0,0.72)" stroke-width="1.2"/>
<text x="871.12" y="394.20" text-anchor="middle" font-size="14" >0.5</text>
<line x1="1148.00" y1="400.0" x2="1148.00" y2="405.5" stroke="rgba(0,0,0,0.72)" stroke-width="1.2"/>
<text x="1148.00" y="394.20" text-anchor="middle" font-size="14" >1.0</text>
<rect x="1136.0" y="35.9" width="12.0" height="304.90000000000003" fill="url(#gseis)" stroke="rgba(0,0,0,0.58)" stroke-width="1.5"/>
<line x1="1148.0" y1="35.90" x2="1153.5" y2="35.90" stroke="rgba(0,0,0,0.72)" stroke-width="1.2"/>
<text x="1157.50" y="40.90" text-anchor="start" font-size="14" >1.0</text>
<line x1="1148.0" y1="112.12" x2="1153.5" y2="112.12" stroke="rgba(0,0,0,0.72)" stroke-width="1.2"/>
<text x="1157.50" y="117.12" text-anchor="start" font-size="14" >0.5</text>
<line x1="1148.0" y1="188.35" x2="1153.5" y2="188.35" stroke="rgba(0,0,0,0.72)" stroke-width="1.2"/>
<text x="1157.50" y="193.35" text-anchor="start" font-size="14" >0.0</text>
<line x1="1148.0" y1="264.57" x2="1153.5" y2="264.57" stroke="rgba(0,0,0,0.72)" stroke-width="1.2"/>
<text x="1157.50" y="269.57" text-anchor="start" font-size="14" >−0.5</text>
<line x1="1148.0" y1="340.80" x2="1153.5" y2="340.80" stroke="rgba(0,0,0,0.72)" stroke-width="1.2"/>
<text x="1157.50" y="345.80" text-anchor="start" font-size="14" >−1.0</text>
</svg>
</body></html>
